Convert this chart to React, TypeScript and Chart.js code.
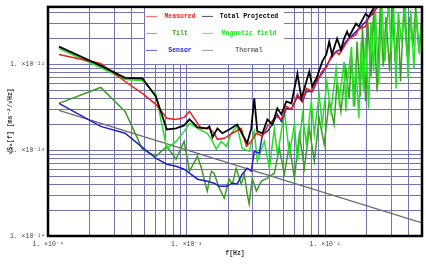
import React, { useEffect, useRef } from 'react';
import { Chart, registerables } from 'chart.js';

Chart.register(...registerables);

// ---------- axis ranges and tick labels ----------
const X_MIN = 1e-4;
const X_MAX = 0.05;
const Y_MIN = 1e-14;
const Y_MAX = 4.7e-12;
const xDecades = [1e-4, 1e-3, 1e-2];
const xTickLabels = ['1. ×10⁻⁴', '1. ×10⁻³', '1. ×10⁻²'];
const yDecades = [1e-14, 1e-13, 1e-12];
const yTickLabels = ['1. ×10⁻¹⁴', '1. ×10⁻¹³', '1. ×10⁻¹²'];
const xTitle = 'f[Hz]';
const yTitle = '√Sₐ[f] [ms⁻²/√Hz]';

// ---------- series ----------
const measuredF = [1.2e-4, 2.4e-4, 3.6e-4, 4.8e-4, 6.0e-4, 7.2e-4, 8.4e-4, 9.6e-4, 1.05e-3, 1.2e-3, 1.28e-3, 1.46e-3, 1.58e-3, 1.67e-3, 1.87e-3, 2.14e-3, 2.48e-3, 2.70e-3, 2.93e-3, 3.19e-3, 3.53e-3, 3.83e-3, 4.45e-3, 4.83e-3, 5.25e-3, 5.71e-3, 6.31e-3, 6.85e-3, 7.32e-3, 8.08e-3, 8.76e-3, 9.52e-3, 1.03e-2, 1.10e-2, 1.20e-2, 1.26e-2, 1.37e-2, 1.49e-2, 1.67e-2, 1.75e-2, 1.96e-2, 2.06e-2, 2.24e-2, 2.31e-2, 2.56e-2, 3.5e-2, 5e-2];
const measuredV = [1.31e-12, 1.03e-12, 6.34e-13, 4.6e-13, 3.43e-13, 2.36e-13, 2.29e-13, 2.42e-13, 2.84e-13, 2.06e-13, 1.80e-13, 1.80e-13, 1.58e-13, 1.34e-13, 1.38e-13, 1.58e-13, 1.80e-13, 1.11e-13, 1.27e-13, 1.58e-13, 1.46e-13, 1.90e-13, 2.49e-13, 2.29e-13, 3.25e-13, 3.00e-13, 4.48e-13, 3.71e-13, 5.26e-13, 4.85e-13, 6.34e-13, 8.29e-13, 9.48e-13, 1.24e-12, 1.42e-12, 1.31e-12, 1.62e-12, 2.01e-12, 2.23e-12, 2.62e-12, 2.77e-12, 3.61e-12, 3.92e-12, 4.48e-12, 5.1e-12, 8e-12, 1.1e-11];

const totalF = [1.2e-4, 2.4e-4, 3.6e-4, 4.8e-4, 6.0e-4, 7.2e-4, 8.4e-4, 9.6e-4, 1.05e-3, 1.2e-3, 1.41e-3, 1.46e-3, 1.54e-3, 1.67e-3, 1.81e-3, 2.03e-3, 2.32e-3, 2.52e-3, 2.74e-3, 2.93e-3, 3.08e-3, 3.24e-3, 3.53e-3, 3.83e-3, 4.16e-3, 4.52e-3, 4.83e-3, 5.25e-3, 5.71e-3, 6.31e-3, 6.74e-3, 7.32e-3, 7.69e-3, 8.08e-3, 8.76e-3, 9.52e-3, 1.02e-2, 1.07e-2, 1.12e-2, 1.22e-2, 1.30e-2, 1.37e-2, 1.44e-2, 1.49e-2, 1.67e-2, 1.75e-2, 1.96e-2, 2.06e-2, 2.31e-2, 2.43e-2, 3.5e-2, 5e-2];
const totalV = [1.62e-12, 9.7e-13, 7.0e-13, 6.87e-13, 4.25e-13, 1.75e-13, 1.80e-13, 1.95e-13, 2.29e-13, 1.85e-13, 1.80e-13, 1.90e-13, 1.42e-13, 1.80e-13, 1.58e-13, 1.75e-13, 2.00e-13, 1.54e-13, 1.21e-13, 1.80e-13, 4.03e-13, 1.66e-13, 1.58e-13, 2.29e-13, 2.00e-13, 3.08e-13, 2.62e-13, 3.71e-13, 3.52e-13, 7.86e-13, 4.03e-13, 6.34e-13, 8.29e-13, 5.55e-13, 7.25e-13, 1.08e-12, 1.31e-12, 1.85e-12, 1.31e-12, 2.01e-12, 1.49e-12, 2.01e-12, 2.42e-12, 2.12e-12, 3.0e-12, 2.77e-12, 3.92e-12, 3.61e-12, 4.99e-12, 6e-12, 9e-12, 1.2e-11];

const sensorF = [1.2e-4, 2.4e-4, 3.6e-4, 4.8e-4, 6.0e-4, 7.2e-4, 8.4e-4, 9.6e-4, 1.05e-3, 1.2e-3, 1.41e-3, 1.58e-3, 1.72e-3, 1.94e-3, 2.14e-3, 2.32e-3, 2.52e-3, 2.74e-3, 2.93e-3, 3.08e-3, 3.35e-3, 3.53e-3, 3.83e-3, 4.16e-3, 4.52e-3, 4.83e-3, 5.25e-3, 5.71e-3, 6.31e-3, 6.85e-3, 7.32e-3, 8.08e-3, 8.76e-3, 9.52e-3, 1.03e-2, 1.10e-2, 1.20e-2, 1.30e-2, 1.41e-2, 1.67e-2, 1.96e-2, 2.24e-2, 2.43e-2, 3.5e-2, 5e-2];
const sensorV = [3.52e-13, 1.90e-13, 1.58e-13, 1.08e-13, 8.07e-14, 6.87e-14, 6.52e-14, 6.01e-14, 5.40e-14, 4.60e-14, 4.36e-14, 4.13e-14, 3.81e-14, 3.81e-14, 4.13e-14, 4.03e-14, 5.26e-14, 6.18e-14, 5.70e-14, 9.73e-14, 9.23e-14, 1.54e-13, 1.66e-13, 2.00e-13, 2.62e-13, 2.17e-13, 3.08e-13, 3.00e-13, 4.25e-13, 3.71e-13, 4.85e-13, 4.85e-13, 6.69e-13, 7.86e-13, 1.0e-12, 1.17e-12, 1.42e-12, 1.49e-12, 1.85e-12, 2.42e-12, 3.16e-12, 4.13e-12, 4.85e-12, 8e-12, 1.1e-11];

const magneticF = [1.2e-4, 2.4e-4, 3.6e-4, 4.8e-4, 6.0e-4, 7.2e-4, 8.4e-4, 9.6e-4, 1.05e-3, 1.24e-3, 1.41e-3, 1.51e-3, 1.64e-3, 1.78e-3, 1.94e-3, 2.10e-3, 2.32e-3, 2.52e-3, 2.83e-3, 3.08e-3, 3.24e-3, 3.64e-3, 3.96e-3, 4.30e-3, 4.52e-3, 4.67e-3, 5.08e-3, 5.52e-3, 6.00e-3, 6.31e-3, 6.85e-3, 7.32e-3, 7.95e-3, 8.35e-3, 9.05e-3, 9.52e-3, 1.03e-2, 1.10e-2, 1.20e-2, 1.26e-2, 1.37e-2, 1.41e-2, 1.44e-2, 1.55e-2, 1.60e-2, 1.67e-2, 1.75e-2, 1.82e-2, 1.89e-2, 1.96e-2, 2.06e-2, 2.14e-2, 2.24e-2, 2.31e-2, 2.43e-2, 2.56e-2, 2.70e-2, 2.87e-2, 3.0e-2, 3.12e-2, 3.25e-2, 3.37e-2, 3.55e-2, 3.78e-2, 3.97e-2, 4.15e-2, 4.37e-2, 4.55e-2, 4.78e-2, 5.0e-2];
const magneticV = [1.53e-12, 9.23e-13, 6.69e-13, 6.5e-13, 4.48e-13, 1.05e-13, 1.27e-13, 1.66e-13, 2.06e-13, 1.75e-13, 1.58e-13, 1.34e-13, 1.03e-13, 1.27e-13, 1.11e-13, 1.58e-13, 1.90e-13, 1.05e-13, 9.73e-14, 1.66e-13, 7.45e-14, 1.27e-13, 6.18e-14, 1.80e-13, 8.98e-14, 1.17e-13, 2.84e-13, 8.98e-14, 2.00e-13, 7.45e-14, 2.62e-13, 1.17e-13, 3.71e-13, 1.54e-13, 4.48e-13, 2.00e-13, 6.34e-13, 2.84e-13, 8.98e-13, 3.71e-13, 1.08e-12, 2.84e-13, 5.85e-13, 1.62e-12, 3.25e-13, 1.0e-12, 2.36e-13, 1.85e-12, 4.85e-13, 2.01e-12, 3.08e-13, 3.16e-12, 8.29e-13, 4.13e-12, 5.85e-13, 4.99e-12, 1.08e-12, 5.7e-12, 1.42e-12, 4.7e-12, 5.26e-13, 4.13e-12, 1.85e-12, 5.4e-12, 6.87e-13, 4.3e-12, 8.98e-13, 3.92e-12, 1.31e-12, 4.13e-12];

const tiltF = [1.2e-4, 2.4e-4, 3.6e-4, 4.8e-4, 6.0e-4, 7.2e-4, 8.4e-4, 9.6e-4, 1.05e-3, 1.2e-3, 1.28e-3, 1.41e-3, 1.51e-3, 1.58e-3, 1.72e-3, 1.87e-3, 2.03e-3, 2.14e-3, 2.28e-3, 2.48e-3, 2.61e-3, 2.74e-3, 2.83e-3, 2.98e-3, 3.19e-3, 3.47e-3, 3.83e-3, 4.30e-3, 4.67e-3, 5.08e-3, 5.52e-3, 6.00e-3, 6.52e-3, 7.08e-3, 7.69e-3, 8.35e-3, 9.05e-3, 9.84e-3, 1.07e-2, 1.16e-2, 1.22e-2, 1.30e-2, 1.41e-2, 1.49e-2, 1.55e-2, 1.63e-2, 1.70e-2, 1.79e-2, 1.86e-2, 1.96e-2, 2.03e-2, 2.14e-2, 2.24e-2, 2.37e-2, 2.50e-2, 2.63e-2, 2.75e-2, 2.92e-2, 3.05e-2, 3.20e-2, 3.37e-2, 3.50e-2, 3.70e-2, 3.90e-2, 4.10e-2, 4.30e-2, 4.50e-2, 4.75e-2, 5.0e-2];
const tiltV = [3.52e-13, 5.40e-13, 2.84e-13, 1.03e-13, 8.51e-14, 1.11e-13, 7.86e-14, 1.27e-13, 5.70e-14, 8.51e-14, 6.18e-14, 3.34e-14, 5.70e-14, 5.40e-14, 3.61e-14, 2.77e-14, 4.60e-14, 4.03e-14, 6.18e-14, 4.03e-14, 5.26e-14, 3.08e-14, 2.36e-14, 4.72e-14, 3.34e-14, 4.36e-14, 4.72e-14, 5.40e-14, 1.05e-13, 5.26e-14, 1.17e-13, 4.72e-14, 1.54e-13, 6.18e-14, 1.80e-13, 7.45e-14, 2.36e-13, 1.17e-13, 3.71e-13, 2.00e-13, 6.34e-13, 2.84e-13, 8.98e-13, 4.03e-13, 1.24e-12, 3.25e-13, 1.85e-12, 4.25e-13, 2.77e-12, 3.71e-13, 3.16e-12, 7.25e-13, 4.3e-12, 4.85e-13, 4.72e-12, 9.48e-13, 3.61e-12, 8.29e-13, 5.4e-12, 1.08e-12, 3.16e-12, 6.34e-13, 4.72e-12, 1.24e-12, 3.61e-12, 1.62e-12, 4.72e-12, 1.42e-12, 3.61e-12];

const thermalF = [1.2e-4, 5e-2];
const thermalV = [2.92e-13, 1.42e-14];

// ---------- legend ----------
const legendLabels = ['Measured', 'Total Projected', 'Tilt', 'Magnetic field', 'Sensor', 'Thermal'];
const legendColors = ['#ee1c1c', '#000000', '#3f9c1e', '#22e022', '#2020cc', '#6a6a6a'];

const GRID = '#7474b4';
const MONO = "'Liberation Mono', 'DejaVu Sans Mono', monospace";

const zip = (f: number[], v: number[]) =>
  f.slice(0, Math.min(f.length, v.length)).map((x, i) => ({ x, y: v[i] }));

function gridTicks(decades: number[], min: number, max: number) {
  const out: { value: number }[] = [];
  for (const d of decades) {
    for (let m = 1; m <= 9; m++) {
      const v = m * d;
      if (v >= min * (1 - 1e-9) && v <= max * (1 + 1e-9)) out.push({ value: v });
    }
  }
  return out;
}

function labelFor(value: number, decades: number[], labels: string[]) {
  const i = decades.findIndex((d) => Math.abs(value / d - 1) < 1e-6);
  return i >= 0 ? labels[i] : '';
}

const framePlugin = {
  id: 'frameAndLegend',
  beforeDatasetsDraw(chart: any) {
    const { ctx, chartArea: a } = chart;
    ctx.save();
    const bx = a.left + 97;
    const by = a.top;
    ctx.fillStyle = '#ffffff';
    ctx.fillRect(bx, by, 139, 57);
    ctx.font = `bold 6.5px ${MONO}`;
    ctx.textAlign = 'center';
    ctx.textBaseline = 'middle';
    const colSample = [bx + 1, bx + 57];
    const colText = [bx + 35, bx + 104];
    const rowY = [by + 9, by + 26, by + 43];
    legendLabels.forEach((lab, i) => {
      const c = i % 2;
      const r = Math.floor(i / 2);
      ctx.strokeStyle = legendColors[i];
      ctx.globalAlpha = 0.7;
      ctx.lineWidth = 1;
      ctx.beginPath();
      ctx.moveTo(colSample[c], rowY[r] + 0.5);
      ctx.lineTo(colSample[c] + 11, rowY[r] + 0.5);
      ctx.stroke();
      ctx.globalAlpha = 1;
      ctx.fillStyle = legendColors[i];
      ctx.fillText(lab, colText[c], rowY[r]);
    });
    ctx.restore();
  },
  afterDatasetsDraw(chart: any) {
    const { ctx, chartArea: a } = chart;
    ctx.save();
    ctx.strokeStyle = '#000';
    ctx.lineWidth = 2.5;
    ctx.strokeRect(a.left, a.top, a.right - a.left, a.bottom - a.top);
    ctx.restore();
  },
};

export default function App() {
  const ref = useRef<HTMLCanvasElement | null>(null);

  useEffect(() => {
    if (!ref.current) return;
    const ds = (label: string, f: number[], v: number[], color: string, w: number) => ({
      label,
      data: zip(f, v),
      borderColor: color,
      backgroundColor: color,
      borderWidth: w,
      pointRadius: 0,
      tension: 0,
      fill: false,
    });
    const chart = new Chart(ref.current, {
      type: 'line',
      data: {
        datasets: [
          ds(legendLabels[1], totalF, totalV, legendColors[1], 1.8),
          ds(legendLabels[0], measuredF, measuredV, legendColors[0], 1.5),
          ds(legendLabels[4], sensorF, sensorV, legendColors[4], 1.5),
          ds(legendLabels[3], magneticF, magneticV, legendColors[3], 1.5),
          ds(legendLabels[2], tiltF, tiltV, legendColors[2], 1.5),
          ds(legendLabels[5], thermalF, thermalV, legendColors[5], 1.3),
        ],
      },
      options: {
        animation: false,
        responsive: false,
        maintainAspectRatio: false,
        layout: { padding: { top: 5, right: 2, left: 0, bottom: 0 } },
        plugins: { legend: { display: false }, tooltip: { enabled: false } },
        scales: {
          x: {
            type: 'logarithmic',
            min: X_MIN,
            max: X_MAX,
            afterBuildTicks: (s: any) => {
              s.ticks = gridTicks(xDecades, X_MIN, X_MAX);
            },
            afterFit: (s: any) => {
              s.height = 28;
            },
            grid: { color: GRID, lineWidth: 1, drawTicks: false },
            border: { display: false },
            ticks: {
              autoSkip: false,
              maxRotation: 0,
              padding: 4,
              color: '#444',
              font: { family: MONO, size: 6.5 },
              callback: (v: any) => labelFor(Number(v), xDecades, xTickLabels),
            },
            title: {
              display: true,
              text: xTitle,
              color: '#333',
              font: { family: MONO, size: 6.5, weight: 'bold' },
              padding: { top: 0, bottom: 7 },
            },
          },
          y: {
            type: 'logarithmic',
            min: Y_MIN,
            max: Y_MAX,
            afterBuildTicks: (s: any) => {
              s.ticks = gridTicks(yDecades, Y_MIN, Y_MAX);
            },
            afterFit: (s: any) => {
              s.width = 48;
            },
            grid: { color: GRID, lineWidth: 1, drawTicks: false },
            border: { display: false },
            ticks: {
              autoSkip: false,
              padding: 3,
              color: '#444',
              font: { family: MONO, size: 6.5 },
              callback: (v: any) => labelFor(Number(v), yDecades, yTickLabels),
            },
            title: {
              display: true,
              text: yTitle,
              color: '#333',
              font: { family: MONO, size: 6.5, weight: 'bold' },
              padding: { top: 6, bottom: 0 },
            },
          },
        },
      },
      plugins: [framePlugin],
    } as any);
    return () => chart.destroy();
  }, []);

  return (
    <div style={{ position: 'absolute', left: 0, top: 0, width: 426, height: 264, background: '#fff' }}>
      <canvas ref={ref} width={426} height={264} style={{ width: 426, height: 264, display: 'block' }} />
    </div>
  );
}
